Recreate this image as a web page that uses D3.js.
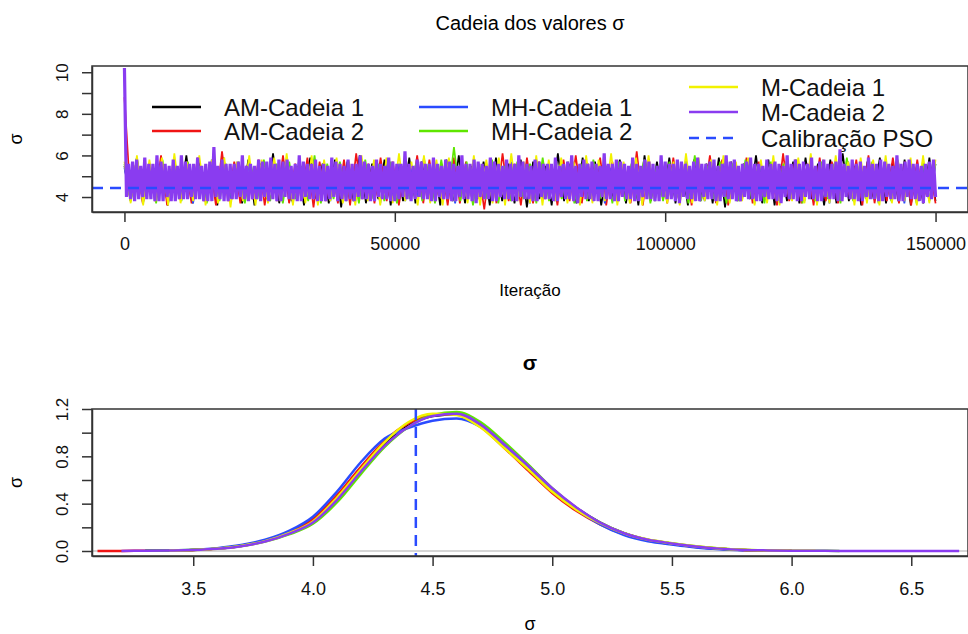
<!DOCTYPE html>
<html>
<head>
<meta charset="utf-8">
<script src="https://cdn.jsdelivr.net/npm/d3@7"></script>
<style>
  body { margin: 0; background: #fff; }
  svg { display: block; font-family: "Liberation Sans", Arial, sans-serif; }
</style>
</head>
<body>
<svg width="968" height="634"></svg>
<script>
let width = 968, height = 634;

let svg = d3.select("svg")
    .attr("viewBox", "0 0 " + width + " " + height);

// chains, same order in trace, density and legend
let chainNames = ["AM-Cadeia 1", "AM-Cadeia 2", "MH-Cadeia 1", "MH-Cadeia 2", "M-Cadeia 1", "M-Cadeia 2"];
let chainColors = ["#000000", "#f01414", "#2a4bff", "#5fe600", "#f2f200", "#8a3cf0"];
let nIter = 150000;
let psoSigma = 4.43; // Calibração PSO

// trace values (thinned)
let traceAM1 = [
    5.5,3.8,5.9,3.7,5.6,4.0,5.8,3.6,5.5,3.9,6.0,3.7,5.7,3.8,5.6,3.6,5.9,4.0,5.5,3.7,
    5.8,3.6,5.6,3.9,6.1,3.7,5.7,3.8,5.5,3.6,5.9,3.9,5.6,3.7,5.8,3.5,5.7,3.8,6.0,3.7,
    5.6,3.9,5.8,3.6,5.5,3.8,5.9,3.7,5.7,4.0,5.6,3.6,5.8,3.8,6.0,3.7,5.5,3.9,5.7,3.6,
    5.9,3.8,5.6,3.7,5.8,3.5,5.7,3.9,5.5,3.6,6.1,3.8,5.6,3.7,5.9,3.8,5.7,3.6,5.5,3.9,
    5.8,3.7,5.6,3.6,6.0,3.8,5.7,3.9,5.9,3.7,5.5,3.6,5.8,3.8,5.6,3.7,5.9,3.5,5.7,3.8,
    5.6,3.9,6.0,3.7,5.8,3.6,5.5,3.8,5.7,3.7,5.9,3.9,5.6,3.6,5.8,3.7,6.1,3.8,5.5,3.6,
    5.7,3.9,5.9,3.7,5.6,3.8,5.8,3.6,5.5,3.7,5.9,3.8
];
let traceAM2 = [
    8.8,3.9,5.8,3.7,5.6,3.8,6.0,3.6,5.7,3.9,5.5,3.7,5.9,3.8,5.6,3.6,6.2,3.8,5.7,3.7,
    5.5,3.9,5.8,3.6,5.7,3.8,6.0,3.7,5.6,3.9,5.9,3.5,5.7,3.8,5.5,3.7,5.8,3.6,6.1,3.9,
    5.6,3.7,5.9,3.8,5.7,3.6,5.5,3.9,6.0,3.7,5.8,3.8,5.6,3.6,5.9,3.7,5.7,3.9,5.5,3.4,
    5.8,3.7,6.1,3.8,5.6,3.6,5.9,3.7,5.7,3.9,5.5,3.6,5.8,3.8,6.0,3.7,5.6,3.9,5.9,3.6,
    5.7,3.8,5.5,3.7,6.2,3.6,5.8,3.9,5.6,3.7,5.9,3.8,5.7,3.6,5.5,3.9,6.0,3.7,5.8,3.6,
    5.6,3.8,5.9,3.7,5.7,3.9,5.5,3.6,6.1,3.8,5.8,3.7,5.6,3.6,5.9,3.8,5.7,3.7,5.5,3.9,
    5.8,3.6,6.0,3.7,5.6,3.8,5.9,3.7,5.7,3.6,5.8,3.8,5.6,3.7
];
let traceMH1 = [
    5.4,3.9,5.6,3.8,5.5,4.0,5.7,3.8,5.4,3.9,5.6,3.7,5.5,4.0,5.8,3.8,5.4,3.9,5.6,3.8,
    5.7,4.0,5.5,3.8,5.6,3.9,5.4,3.7,5.8,3.9,5.5,4.0,5.6,3.8,5.7,3.9,5.4,3.8,5.6,4.0,
    5.5,3.7,5.7,3.9,5.6,3.8,5.4,4.0,5.9,3.8,5.5,3.9,5.6,3.7,5.7,3.9,5.4,3.8,5.6,4.0,
    5.5,3.8,5.7,3.9,5.6,3.7,5.8,3.9,5.4,3.8,5.6,4.0,5.5,3.8,5.7,3.9,5.6,3.7,5.4,3.9,
    5.6,3.8,5.5,4.0,5.7,3.8,5.6,3.9,5.4,3.7,5.8,3.9,5.5,3.8,5.6,4.0,5.7,3.8,5.4,3.9,
    5.6,3.7,5.5,3.9,5.7,3.8,5.6,4.0,5.4,3.8,5.9,3.9,5.5,3.7,5.6,3.9,5.7,3.8,5.4,4.0,
    5.6,3.8,5.5,3.9,5.7,3.7,5.6,3.9,5.4,3.8,5.6
];
let traceMH2 = [
    5.6,3.8,5.7,3.9,5.5,3.7,5.8,3.9,5.6,3.8,5.7,4.0,5.5,3.7,5.9,3.8,5.6,3.9,5.7,3.7,
    5.5,3.9,5.8,3.8,5.6,3.7,5.7,3.9,5.5,3.8,6.0,3.7,5.6,3.9,5.7,3.8,5.5,3.7,5.8,3.9,
    5.6,3.8,5.7,3.7,5.5,3.9,5.6,3.8,5.6,3.7,5.8,3.9,6.4,3.8,5.7,3.6,5.6,3.9,5.8,3.7,
    5.5,3.8,5.7,3.9,5.6,3.7,5.9,3.8,5.5,3.9,5.7,3.7,5.6,3.8,5.8,3.9,5.5,3.7,5.7,3.8,
    5.6,3.9,5.8,3.7,5.5,3.8,5.7,3.9,5.6,3.7,6.0,3.8,5.5,3.9,5.7,3.7,5.6,3.8,5.8,3.9,
    5.5,3.7,5.7,3.8,5.6,3.9,5.8,3.7,5.5,3.8,5.7,3.9,5.6,3.7,5.9,3.8,5.5,3.9,5.7,3.7,
    5.6,3.8,5.8,3.9,5.5,3.7,5.7,3.8,5.6
];
let traceM1 = [
    5.7,3.7,6.0,3.6,5.8,3.8,5.9,3.6,6.1,3.7,5.7,3.8,6.0,3.6,5.8,3.7,5.9,3.5,5.7,3.8,
    6.0,3.6,5.8,3.7,5.9,3.8,6.1,3.6,5.7,3.7,6.0,3.6,5.8,3.8,5.9,3.7,5.7,3.6,6.0,3.8,
    5.8,3.6,5.9,3.7,6.1,3.8,5.7,3.6,6.0,3.7,5.8,3.6,5.9,3.8,5.7,3.7,6.0,3.6,5.8,3.7,
    5.9,3.6,6.1,3.8,5.7,3.7,6.0,3.6,5.8,3.8,5.9,3.7,5.7,3.6,6.0,3.7,5.8,3.8,6.1,3.6,
    5.7,3.7,5.9,3.6,6.0,3.8,5.8,3.7,5.7,3.6,6.1,3.7,5.9,3.8,5.8,3.6,6.0,3.7,5.7,3.8,
    5.9,3.6,5.8,3.7,6.0,3.6,5.7,3.8,5.9,3.7,6.1,3.6,5.8,3.7,6.0,3.8,5.7,3.6,5.9,3.7,
    5.8,3.6,6.0,3.7,5.7,3.8,5.9,3.6,6.0,3.7,5.8
];
let traceM2 = [
    10.2,4.0,5.6,3.9,5.7,3.8,5.8,3.9,5.5,4.0,5.9,3.9,5.6,3.9,5.6,3.8,6.0,3.8,5.7,3.8,
    5.6,4.0,5.5,3.8,5.8,3.8,5.5,3.9,6.0,3.9,5.7,3.9,5.6,4.0,5.6,3.9,5.9,3.9,5.5,3.8,
    5.6,3.8,5.7,3.8,6.4,4.0,5.5,3.9,5.8,3.8,5.6,3.8,5.6,3.9,5.6,3.9,5.7,4.0,6.0,3.9,
    5.5,3.8,5.6,3.9,5.5,3.9,5.8,3.8,5.7,4.0,5.7,3.8,5.9,3.9,5.6,3.8,5.8,3.8,5.7,4.0,
    5.8,3.9,5.5,3.9,5.6,3.8,6.0,3.8,5.7,4.0,5.6,3.9,5.6,3.9,5.8,3.8,5.5,3.8,5.6,3.8,
    5.5,3.9,5.9,4.0,5.7,3.8,5.6,3.9,5.5,3.8,5.8,3.9,5.6,3.8,5.6,4.0,6.0,3.9,5.7,3.9,
    5.6,3.8,5.5,3.8,5.8,4.0,5.6,3.9,5.5,3.9,5.9,3.8,5.7,3.8,5.6,3.9,5.6,4.0,6.2,3.9,
    5.6,3.8,5.5,3.9,5.8,4.0,5.7,3.9,5.6,3.9,5.6,3.8,5.9,3.8,5.6,4.0,5.5,3.9,5.8,3.9,
    5.7,3.8,5.6,3.8,5.5,4.0,6.0,3.9,5.6,3.9,5.6,3.8,5.8,3.7,5.7,4.0,5.6,3.9,5.5,3.9,
    5.9,3.8,5.7,3.8,5.6,4.0,5.5,3.9,5.8,3.9,5.6,3.8,5.6,3.8,6.0,4.0,5.7,3.9,5.6,3.9,
    5.5,3.8,5.8,3.8,5.7,4.0,5.6,3.9,5.6,3.9,5.6,3.8,5.9,3.8,5.5,4.0,5.6,3.9,5.7,3.9,
    6.0,3.8,5.5,3.7,5.6,4.0,5.8,3.9,5.6,3.9,5.7,3.8,5.6,3.8,5.5,4.0,6.1,3.9,5.6,3.9,
    5.6,3.8,5.8,3.8,5.7,4.0,5.6,3.9,5.5,3.9,5.9,3.8,5.6,3.8,5.5,4.0,5.8,3.9,5.7,3.9,
    5.6,3.8,5.5,3.8,6.0,4.0,5.7,3.9,5.6,3.9,5.6,3.8,5.8,3.7,5.7,4.0,5.6,3.9,5.5,3.9,
    5.7,3.8,5.9,3.8,5.6,4.0,5.6,3.9,5.7,3.9,5.8,3.8,5.5,3.8,5.6,4.0,6.0,3.9,5.7,3.9,
    5.8,3.8,5.5,3.8,5.6,4.0,5.7,3.9,5.9,3.9,5.6,3.8,5.6,3.8,5.5,4.0,5.8,3.9,5.6,3.9,
    5.7,3.8,5.6,3.7,5.5,4.0,6.0,3.9,5.6,3.9,5.8,3.8,5.6,3.8,5.7,4.0,5.6,3.9,5.9,3.9,
    5.5,3.8,5.7,3.8,5.8,4.0,5.6,3.9,5.6,3.9,5.7,3.8,6.3,3.8,5.6,4.0,5.5,3.9,5.8,3.9,
    5.6,3.8,5.7,3.8,5.5,4.0,5.9,3.9,5.6,3.9,5.6,3.8,5.8,3.8,5.7,4.0,5.6,3.9,5.5,3.9,
    6.0,3.8,5.6,3.8,5.7,4.0,5.8,3.9,5.6,3.9,5.6,3.8,5.5,3.7,5.6,4.0,5.7,3.9,5.8,4.0
];
let traces = [traceAM1, traceAM2, traceMH1, traceMH2, traceM1, traceM2];

// density estimates on a common grid (null = outside the chain's range)
let densGrid = [3.1,3.2,3.3,3.4,3.5,3.6,3.7,3.8,3.9,4.0,4.1,4.2,4.3,4.4,4.5,4.6,4.7,4.8,4.9,
    5.0,5.1,5.2,5.3,5.4,5.5,5.6,5.7,5.8,5.9,6.0,6.1,6.2,6.3,6.4,6.5,6.6,6.7];
let densAM1 = [null,null,0.002,0.004,0.009,0.02,0.043,0.085,0.15,0.25,0.44,0.68,0.9,1.06,1.14,1.155,1.065,0.895,0.715,
    0.525,0.365,0.24,0.15,0.093,0.062,0.036,0.019,0.009,0.004,0.002,null,null,null,null,null,null,null];
let densAM2 = [0.0005,0.001,0.002,0.004,0.009,0.02,0.045,0.088,0.16,0.27,0.47,0.71,0.93,1.08,1.15,1.155,1.05,0.87,0.68,
    0.49,0.34,0.225,0.14,0.088,0.058,0.034,0.018,0.008,0.004,0.002,null,null,null,null,null,null,null];
let densMH1 = [null,null,0.002,0.005,0.011,0.024,0.05,0.095,0.17,0.29,0.5,0.75,0.95,1.04,1.1,1.12,1.05,0.89,0.71,
    0.52,0.355,0.225,0.135,0.082,0.054,0.03,0.015,0.006,null,null,null,null,null,null,null,null,null];
let densMH2 = [null,null,0.002,0.005,0.01,0.02,0.042,0.08,0.14,0.23,0.41,0.65,0.88,1.05,1.15,1.175,1.09,0.92,0.73,
    0.53,0.365,0.24,0.15,0.095,0.065,0.04,0.021,0.01,0.005,0.003,0.002,0.001,null,null,null,null,null];
let densM1 = [null,null,null,0.004,0.008,0.019,0.042,0.082,0.15,0.25,0.45,0.69,0.92,1.09,1.16,1.15,1.045,0.87,0.69,
    0.5,0.35,0.235,0.15,0.097,0.066,0.04,0.021,0.01,0.005,0.003,0.002,null,null,null,null,null,null];
let densM2 = [null,0.001,0.002,0.004,0.008,0.018,0.04,0.08,0.145,0.24,0.43,0.67,0.89,1.05,1.14,1.16,1.07,0.9,0.72,
    0.53,0.37,0.24,0.15,0.095,0.064,0.038,0.02,0.009,0.005,0.003,0.002,0.001,0.001,0.0005,0.0005,0.0003,0.0002];
let densities = [densAM1, densAM2, densMH1, densMH2, densM1, densM2];

// ticks
let xTicksTop = [0, 50000, 100000, 150000];
let yTicksTop = [4, 5, 6, 7, 8, 9, 10];
let xTicksBot = [3.5, 4.0, 4.5, 5.0, 5.5, 6.0, 6.5];
let yTicksBot = [0, 0.2, 0.4, 0.6, 0.8, 1.0, 1.2];

let panel1 = { left: 92, right: 968, top: 66, bottom: 212 };
let panel2 = { left: 92, right: 968, top: 409, bottom: 556 };

let axisColor = "#333";
let psoColor = "#2a4bff";

function styleAxis(g) {
    g.select(".domain").attr("stroke", axisColor).attr("stroke-width", 1.5);
    g.selectAll(".tick line").attr("stroke", axisColor).attr("stroke-width", 1.5);
    g.selectAll(".tick text").attr("fill", "#111")
        .style("font-family", "'Liberation Sans', Arial, sans-serif");
}

// ---------- top: trace plot ----------
let xIter = d3.scaleLinear().domain([-6000, 156000]).range([panel1.left, panel1.right]);
let ySig = d3.scaleLinear().domain([3.28, 10.3]).range([panel1.bottom, panel1.top]);

let traceLine = (vals) => d3.line()
    .x((d, i) => xIter(i * nIter / (vals.length - 1)))
    .y(d => ySig(d))(vals);

svg.append("g")
    .attr("id", "traces")
    .selectAll("path")
    .data(traces)
    .enter()
    .append("path")
    .attr("d", d => traceLine(d))
    .attr("fill", "none")
    .attr("stroke", (d, i) => chainColors[i])
    .attr("stroke-width", (d, i) => i === 5 ? 3.2 : 1.7)
    .attr("stroke-linejoin", "bevel");

svg.append("line")
    .attr("x1", panel1.left).attr("x2", panel1.right)
    .attr("y1", ySig(psoSigma)).attr("y2", ySig(psoSigma))
    .attr("stroke", psoColor)
    .attr("stroke-width", 2.5)
    .attr("stroke-dasharray", "11,7");

svg.append("g")
    .attr("transform", "translate(0," + panel1.bottom + ")")
    .call(d3.axisBottom(xIter).tickValues(xTicksTop).tickSize(10).tickSizeOuter(0).tickFormat(d3.format("d")))
    .call(styleAxis)
    .selectAll(".tick text")
    .attr("y", 37.5).attr("dy", 0)
    .style("font-size", "18px");

svg.append("g")
    .attr("transform", "translate(" + panel1.left + ",0)")
    .call(d3.axisLeft(ySig).tickValues(yTicksTop).tickSize(10).tickSizeOuter(0)
        .tickFormat(d => d % 2 === 0 ? d : ""))
    .call(styleAxis)
    .selectAll(".tick text")
    .attr("transform", "rotate(-90)")
    .attr("x", 0).attr("y", -24.5).attr("dy", 0)
    .attr("text-anchor", "middle")
    .style("font-size", "17px");

svg.append("rect")
    .attr("x", panel1.left).attr("y", panel1.top)
    .attr("width", panel1.right - panel1.left).attr("height", panel1.bottom - panel1.top)
    .attr("fill", "none").attr("stroke", axisColor).attr("stroke-width", 1.5);

svg.append("text")
    .attr("x", 530).attr("y", 29.5)
    .attr("text-anchor", "middle")
    .style("font-size", "20px")
    .text("Cadeia dos valores σ");

svg.append("text")
    .attr("x", 530).attr("y", 296)
    .attr("text-anchor", "middle")
    .style("font-size", "17px")
    .text("Iteração");

svg.append("text")
    .attr("transform", "translate(22," + (panel1.top + panel1.bottom) / 2 + ") rotate(-90)")
    .attr("text-anchor", "middle")
    .style("font-size", "18px")
    .text("σ");

// legend (three columns, no box)
let legendPos = [
    { x: 152, y: 107 }, { x: 152, y: 131 },
    { x: 419, y: 107 }, { x: 419, y: 131 },
    { x: 689, y: 87 }, { x: 689, y: 112 }
];
let legendItems = chainNames.map((n, i) => ({ name: n, color: chainColors[i], dash: null, pos: legendPos[i] }));
legendItems.push({ name: "Calibração PSO", color: psoColor, dash: "10,7", pos: { x: 689, y: 138 } });

let legend = svg.append("g").attr("id", "legend")
    .selectAll("g")
    .data(legendItems)
    .enter()
    .append("g")
    .attr("transform", d => "translate(" + d.pos.x + "," + d.pos.y + ")");

legend.append("line")
    .attr("x1", 0).attr("x2", 49)
    .attr("stroke", d => d.color)
    .attr("stroke-width", 2.5)
    .attr("stroke-dasharray", d => d.dash);

legend.append("text")
    .attr("x", 72).attr("y", 9)
    .style("font-size", "24px")
    .attr("fill", "#111")
    .text(d => d.name);

// ---------- bottom: densities ----------
let xDen = d3.scaleLinear().domain([3.077, 6.737]).range([panel2.left, panel2.right]);
let yDen = d3.scaleLinear().domain([-0.0423, 1.2]).range([panel2.bottom, panel2.top]);

svg.append("line")
    .attr("x1", panel2.left).attr("x2", panel2.right)
    .attr("y1", yDen(0)).attr("y2", yDen(0))
    .attr("stroke", "#c8c8c8").attr("stroke-width", 1.5);

let densLine = d3.line()
    .defined(d => d[1] != null)
    .x(d => xDen(d[0]))
    .y(d => yDen(d[1]))
    .curve(d3.curveMonotoneX);

svg.append("g")
    .attr("id", "densities")
    .selectAll("path")
    .data(densities)
    .enter()
    .append("path")
    .attr("d", d => densLine(densGrid.map((x, j) => [x, d[j]])))
    .attr("fill", "none")
    .attr("stroke", (d, i) => chainColors[i])
    .attr("stroke-width", 2.5);

svg.append("line")
    .attr("x1", xDen(psoSigma)).attr("x2", xDen(psoSigma))
    .attr("y1", panel2.top).attr("y2", panel2.bottom)
    .attr("stroke", psoColor)
    .attr("stroke-width", 2.5)
    .attr("stroke-dasharray", "11,7");

svg.append("g")
    .attr("transform", "translate(0," + panel2.bottom + ")")
    .call(d3.axisBottom(xDen).tickValues(xTicksBot).tickSize(10).tickSizeOuter(0).tickFormat(d3.format(".1f")))
    .call(styleAxis)
    .selectAll(".tick text")
    .attr("y", 38.5).attr("dy", 0)
    .style("font-size", "18px");

svg.append("g")
    .attr("transform", "translate(" + panel2.left + ",0)")
    .call(d3.axisLeft(yDen).tickValues(yTicksBot).tickSize(10).tickSizeOuter(0)
        .tickFormat((d, i) => i % 2 === 0 ? d3.format(".1f")(d) : ""))
    .call(styleAxis)
    .selectAll(".tick text")
    .attr("transform", "rotate(-90)")
    .attr("x", 0).attr("y", -24.5).attr("dy", 0)
    .attr("text-anchor", "middle")
    .style("font-size", "17px");

svg.append("rect")
    .attr("x", panel2.left).attr("y", panel2.top)
    .attr("width", panel2.right - panel2.left).attr("height", panel2.bottom - panel2.top)
    .attr("fill", "none").attr("stroke", axisColor).attr("stroke-width", 1.5);

svg.append("text")
    .attr("x", 530).attr("y", 370)
    .attr("text-anchor", "middle")
    .style("font-size", "21px")
    .style("font-weight", "bold")
    .text("σ");

svg.append("text")
    .attr("x", 530).attr("y", 630)
    .attr("text-anchor", "middle")
    .style("font-size", "18px")
    .text("σ");

svg.append("text")
    .attr("transform", "translate(22," + (panel2.top + panel2.bottom) / 2 + ") rotate(-90)")
    .attr("text-anchor", "middle")
    .style("font-size", "18px")
    .text("σ");
</script>
</body>
</html>
